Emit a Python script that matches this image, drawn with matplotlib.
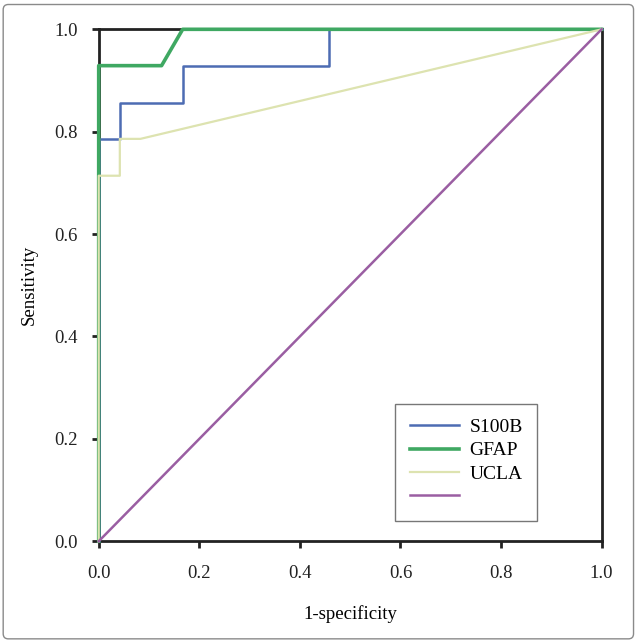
import matplotlib.pyplot as plt
from matplotlib.patches import FancyBboxPatch

# ROC curve points (1-specificity, sensitivity)
s100b_x = [0.0, 0.0, 0.042, 0.042, 0.167, 0.167, 0.458, 0.458, 1.0]
s100b_y = [0.0, 0.786, 0.786, 0.857, 0.857, 0.929, 0.929, 1.0, 1.0]

gfap_x = [0.0, 0.0, 0.125, 0.167, 1.0]
gfap_y = [0.0, 0.929, 0.929, 1.0, 1.0]

ucla_x = [0.0, 0.0, 0.042, 0.042, 0.083, 1.0]
ucla_y = [0.0, 0.714, 0.714, 0.786, 0.786, 1.0]

ref_x = [0.0, 1.0]
ref_y = [0.0, 1.0]

labels = ['S100B', 'GFAP', 'UCLA', ' ']
ticks = [0.0, 0.2, 0.4, 0.6, 0.8, 1.0]
tick_labels = ['0.0', '0.2', '0.4', '0.6', '0.8', '1.0']

plt.rcParams['font.family'] = ['Liberation Serif', 'DejaVu Serif']

fig = plt.figure(figsize=(6.38, 6.44), dpi=100)
ax = fig.add_axes([0.1547, 0.1595, 0.7883, 0.795])

# outer frame round the whole figure
fig.patches.append(FancyBboxPatch((0.005, 0.008), 0.988, 0.985,
                                  boxstyle='round,pad=0,rounding_size=0.008',
                                  transform=fig.transFigure, fill=False,
                                  edgecolor='#8a8a8a', linewidth=1.0))

ax.plot(s100b_x, s100b_y, color='#4d6cb3', lw=1.8, label=labels[0], clip_on=False)
ax.plot(gfap_x, gfap_y, color='#3fa862', lw=2.6, label=labels[1], clip_on=False)
ax.plot(ucla_x, ucla_y, color='#dde3b0', lw=1.6, label=labels[2], clip_on=False)
ax.plot(ref_x, ref_y, color='#9a5ea2', lw=1.8, label=labels[3], clip_on=False)

ax.set_xlim(0, 1)
ax.set_ylim(0, 1)
ax.set_xticks(ticks)
ax.set_xticklabels(tick_labels)
ax.set_yticks(ticks)
ax.set_yticklabels(tick_labels)
ax.tick_params(direction='out', length=5, width=2, labelsize=13.5, pad=12, colors='#222222')
ax.tick_params(axis='y', pad=10)
for s in ax.spines.values():
    s.set_linewidth(2)
    s.set_color('#222222')
    s.set_zorder(1)

ax.set_xlabel('1-specificity', fontsize=13.5, labelpad=17)
ax.set_ylabel('Sensitivity', fontsize=13.5, labelpad=12)

leg = ax.legend(loc='lower right', bbox_to_anchor=(0.872, 0.04), fontsize=14,
                frameon=True, fancybox=False, edgecolor='#555555',
                handlelength=2.5, handletextpad=0.55, labelspacing=0.3,
                borderpad=0.75, borderaxespad=0)
leg.get_frame().set_linewidth(1.0)

fig.savefig('out.png', dpi=100)
